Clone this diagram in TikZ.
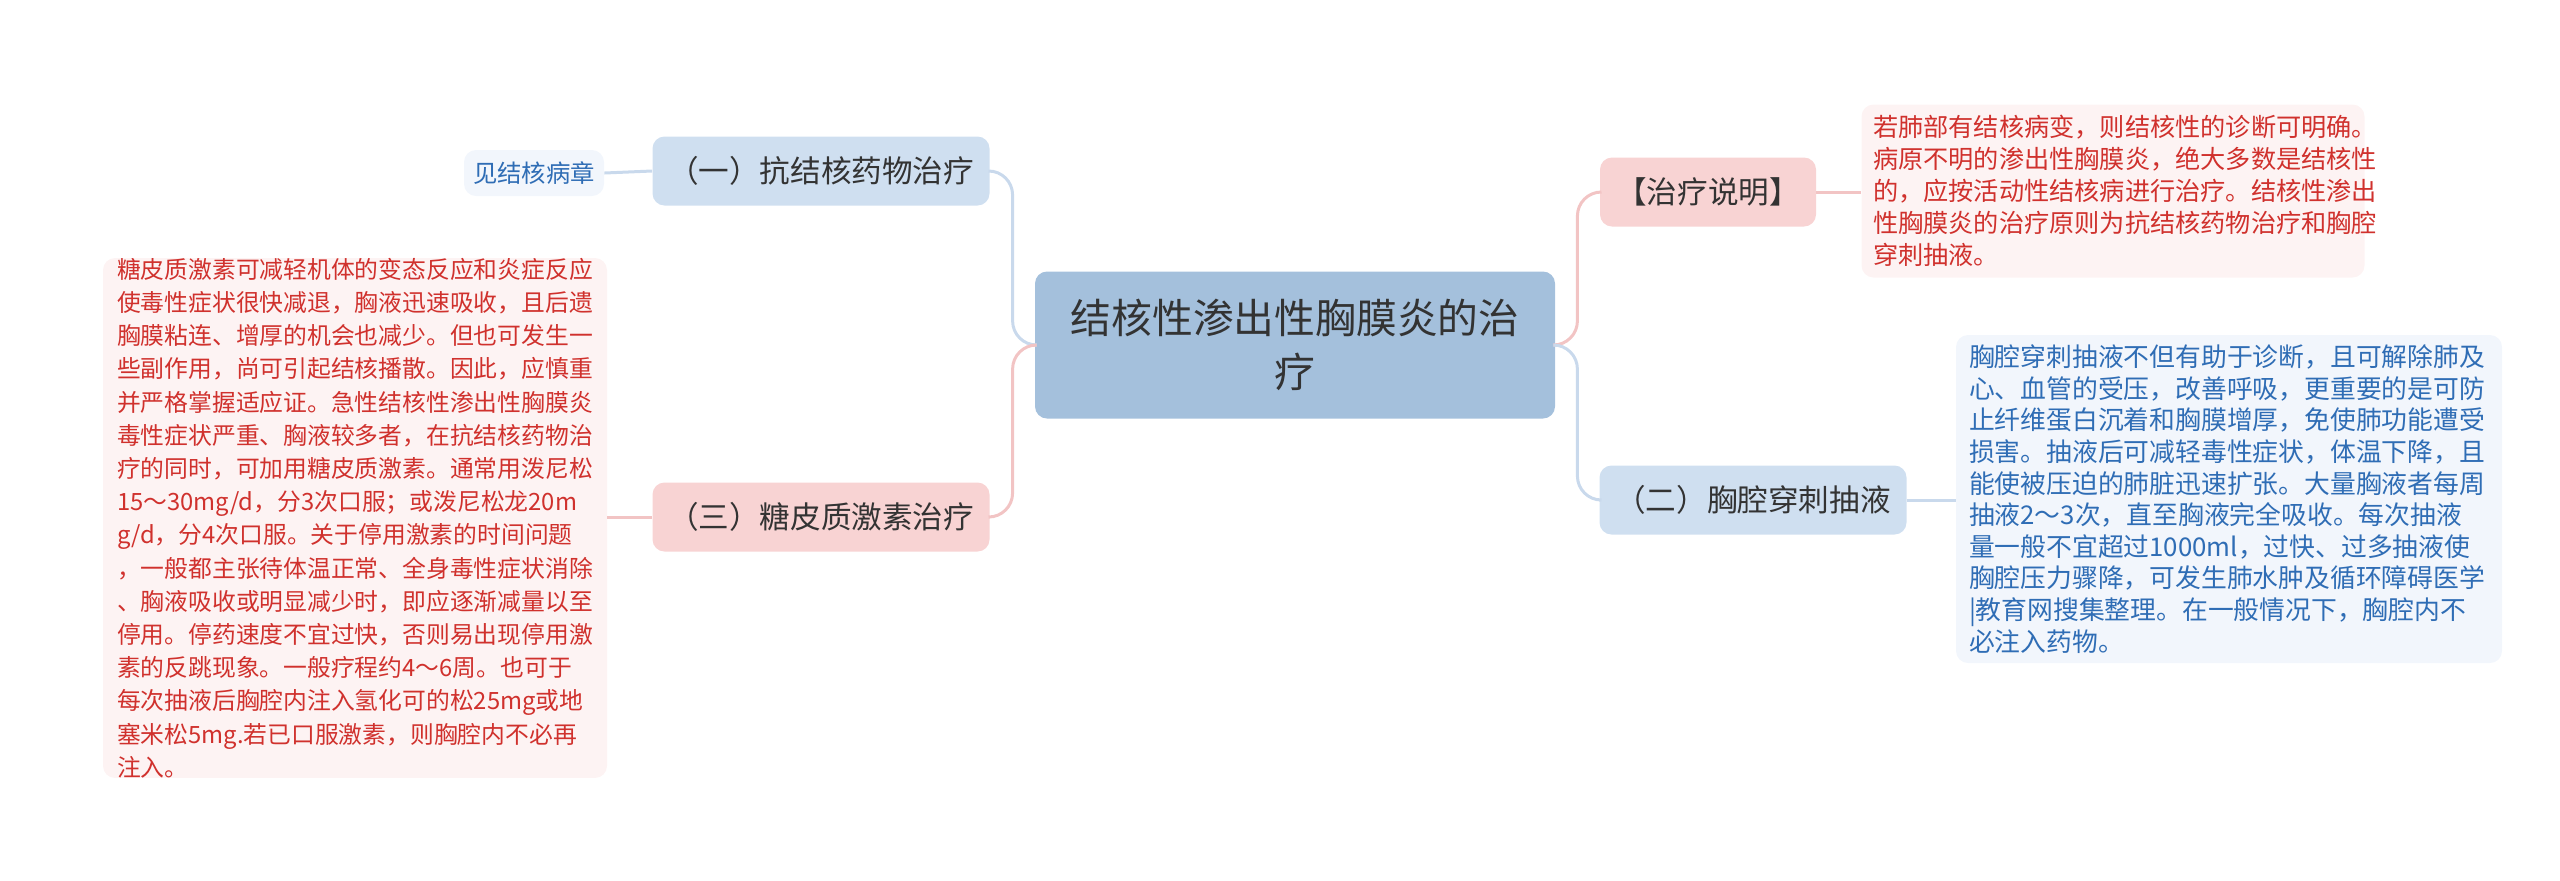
\documentclass[tikz,border=0pt]{standalone}
\usepackage{fontspec}
\setmainfont{Noto Sans CJK SC}
\definecolor{rootfill}{HTML}{A4C0DC}
\definecolor{bluefill}{HTML}{CFDFF0}
\definecolor{pinkfill}{HTML}{F8D3D3}
\definecolor{leafpink}{HTML}{FDF3F3}
\definecolor{leafblue}{HTML}{F2F6FC}
\definecolor{redtext}{HTML}{D0312D}
\definecolor{bluetext}{HTML}{2F6DB5}
\definecolor{blueline}{HTML}{C9D9EC}
\definecolor{pinkline}{HTML}{F2C4C4}
\definecolor{darktext}{HTML}{333333}
\tikzset{
  box/.style={rounded corners=6pt, inner sep=0pt, align=center},
  rootbox/.style={box, fill=rootfill, text=darktext, font=\fontsize{20.4}{27}\selectfont},
  topicblue/.style={box, fill=bluefill, text=darktext, font=\fontsize{15.3}{18}\selectfont},
  topicpink/.style={box, fill=pinkfill, text=darktext, font=\fontsize{15.3}{18}\selectfont},
  leafred/.style={box, fill=leafpink, text=redtext, align=left},
  leafblu/.style={box, fill=leafblue, text=bluetext, align=left},
  bl/.style={draw=blueline, line width=1.5pt, rounded corners=12pt},
  pl/.style={draw=pinkline, line width=1.5pt, rounded corners=12pt}
}
\begin{document}
\begin{tikzpicture}[x=0.5pt,y=-0.5pt]
\useasboundingbox (0,0) rectangle (2560,880);

\node[rootbox, minimum width=260pt, minimum height=73.5pt] (root) at (1295,345) {结核性渗出性胸膜炎的治\\疗};

\node[topicblue, minimum width=168.5pt, minimum height=34.5pt] (anti) at (821,171) {（一）抗结核药物治疗};
\node[box, fill=leafblue, text=bluetext, font=\fontsize{12.2}{14}\selectfont, minimum width=70pt, minimum height=23pt] (see) at (534,173) {见结核病章};

\node[topicpink, minimum width=168.5pt, minimum height=34.5pt] (gluco) at (821,517) {（三）糖皮质激素治疗};
\node[leafred, font=\fontsize{11.9}{16.6}\selectfont, minimum width=252pt, minimum height=257.5pt, text width=238pt] (glucotext) at (355,518) {糖皮质激素可减轻机体的变态反应和炎症反应\\使毒性症状很快减退，胸液迅速吸收，且后遗\\胸膜粘连、增厚的机会也减少。但也可发生一\\些副作用，尚可引起结核播散。因此，应慎重\\并严格掌握适应证。急性结核性渗出性胸膜炎\\毒性症状严重、胸液较多者，在抗结核药物治\\疗的同时，可加用糖皮质激素。通常用泼尼松\\15～30mg/d，分3次口服；或泼尼松龙20m\\g/d，分4次口服。关于停用激素的时间问题\\，一般都主张待体温正常、全身毒性症状消除\\、胸液吸收或明显减少时，即应逐渐减量以至\\停用。停药速度不宜过快，否则易出现停用激\\素的反跳现象。一般疗程约4～6周。也可于\\每次抽液后胸腔内注入氢化可的松25mg或地\\塞米松5mg.若已口服激素，则胸腔内不必再\\注入。};

\node[topicpink, minimum width=108pt, minimum height=34.5pt] (note) at (1708,192) {【治疗说明】};
\node[leafred, font=\fontsize{12.6}{16}\selectfont, minimum width=251.5pt, minimum height=86.5pt, text width=240pt] (notetext) at (2113,191) {若肺部有结核病变，则结核性的诊断可明确。\\病原不明的渗出性胸膜炎，绝大多数是结核性\\的，应按活动性结核病进行治疗。结核性渗出\\性胸膜炎的治疗原则为抗结核药物治疗和胸腔\\穿刺抽液。};

\node[topicblue, minimum width=153.5pt, minimum height=34.5pt] (tap) at (1753,500) {（二）胸腔穿刺抽液};
\node[leafblu, font=\fontsize{12.9}{15.8}\selectfont, minimum width=273pt, minimum height=164pt, text width=260pt] (taptext) at (2229,499) {胸腔穿刺抽液不但有助于诊断，且可解除肺及\\心、血管的受压，改善呼吸，更重要的是可防\\止纤维蛋白沉着和胸膜增厚，免使肺功能遭受\\损害。抽液后可减轻毒性症状，体温下降，且\\能使被压迫的肺脏迅速扩张。大量胸液者每周\\抽液2～3次，直至胸液完全吸收。每次抽液\\量一般不宜超过1000ml，过快、过多抽液使\\胸腔压力骤降，可发生肺水肿及循环障碍医学\\|教育网搜集整理。在一般情况下，胸腔内不\\必注入药物。};

% branches
\draw[bl] (root.west) -- ++(-22,0) |- (anti.east);
\draw[pl] (root.west) -- ++(-22,0) |- (gluco.east);
\draw[pl] (root.east) -- ++(22,0) |- (note.west);
\draw[bl] (root.east) -- ++(22,0) |- (tap.west);

% leaves
\draw[bl] (anti.west) -- (see.east);
\draw[pl] (gluco.west) -- (glucotext.east |- gluco.west);
\draw[pl] (note.east) -- (notetext.west |- note.east);
\draw[bl] (tap.east) -- (taptext.west |- tap.east);
\end{tikzpicture}
\end{document}
